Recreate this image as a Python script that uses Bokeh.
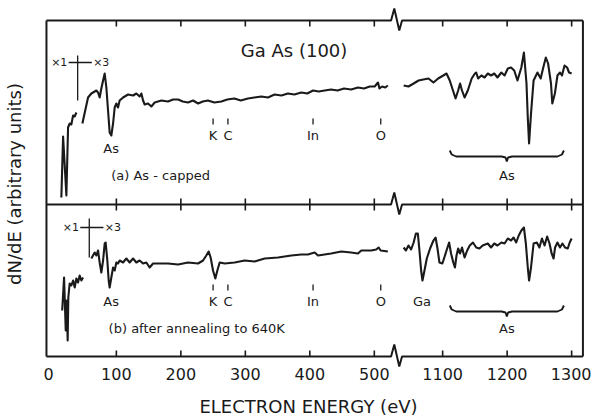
import numpy as np
from bokeh.plotting import figure
from bokeh.models import Range1d, FixedTicker
from bokeh.core.properties import value
from bokeh.embed import file_html
from bokeh.resources import INLINE

# ---------------- data (electron energy in eV, dN/dE in arbitrary units) ----------------
# (a) As-capped : x1 part
a_lo_E = [14.7, 17.4, 22.5, 25.1, 27.6, 30.2, 32.9, 35.4, 38.0]
a_lo_I = [159, 220, 161, 229, 233, 232, 241, 240, 244]
# (a) As-capped : x3 part
a_mid_E = [47.3, 56.1, 61.2, 69.0, 71.6, 74.1, 76.7, 79.4, 81.9, 84.5, 87.1, 89.6, 92.2, 94.9,
           97.4, 100, 102.6, 105.1, 110.4, 118.1, 125.9, 131, 136.1, 138.8, 141.4, 143.9, 149.1,
           154.3, 159.4, 169.8, 180, 188, 195.7, 203, 211, 219, 226.7, 234, 242, 252, 262.8,
           272, 283, 293, 304, 314, 324.8, 335, 345.4, 356, 366, 376, 386.8, 396, 405, 414,
           423, 433, 443, 453, 464, 474.7, 484, 493, 500.5, 505.7, 508, 512, 517, 521]
a_mid_I = [233, 259, 263, 266, 264, 259, 268, 276, 283, 269, 246, 224, 221, 233,
           249, 253, 249, 256, 259, 262, 261, 263, 260, 263, 256, 252, 253,
           250, 254, 256, 255, 257, 257, 255, 254, 256, 253, 255, 256, 254, 255,
           257, 258, 256, 258, 259, 260, 259, 262, 261, 263, 262, 264, 263, 266, 265,
           266, 267, 266, 268, 267, 269, 268, 270, 270, 274, 268, 270, 269, 271]
# (a) As-capped : high-energy part
a_hi_E = [1039.5, 1047, 1055, 1062.6, 1070, 1078, 1085.7, 1093, 1101, 1106, 1111, 1116, 1120,
          1124, 1127, 1130, 1134, 1139, 1145, 1150, 1152, 1155, 1160, 1165, 1170, 1175, 1180,
          1185, 1191, 1196, 1201, 1206, 1211, 1216, 1222, 1226, 1230, 1232, 1234, 1237, 1241,
          1247, 1252, 1256, 1260, 1263.5, 1268, 1270, 1274, 1278, 1282, 1285, 1289, 1293,
          1296, 1300]
a_hi_I = [271, 270, 273, 276, 277, 278, 274, 278, 281, 283, 276, 266, 258,
          266, 273, 266, 259, 266, 278, 283, 284, 278, 281, 279, 283, 281, 283,
          279, 284, 281, 288, 289, 286, 276, 289, 304, 273, 239, 213, 243, 276,
          284, 278, 289, 299, 293, 273, 253, 263, 281, 284, 281, 291, 289,
          284, 283]

# (b) after annealing to 640 K : x1 part
b_lo_E = [16, 18.9, 21.5, 23, 24.5, 25.5, 27.6, 30.2, 32.9, 35.4, 38, 40.6, 43.1, 45.7, 48.4]
b_lo_I = [46, 79, 26, 56, 16, 59, 73, 71, 76, 69, 78, 74, 81, 76, 79]
# (b) x3 part
b_mid_E = [61.2, 66.4, 69, 71.6, 74.1, 76.7, 79.4, 81.9, 83.4, 86, 88.1, 89.6, 92.2, 94.9, 97.4,
           100, 102.6, 105.1, 110.4, 115.5, 120.6, 125.9, 131, 136.1, 141.4, 146.5, 151.6,
           156.9, 167.1, 180.2, 195.7, 211.2, 226.7, 234.4, 239.5, 243.1, 246.2, 249.9, 253.5,
           256.6, 260.2, 268, 283.4, 299, 314.4, 330, 350.7, 371.3, 386.8, 397, 407.5, 412.7,
           433, 448.8, 464, 474.7, 479.8, 495.3, 503, 506.7, 509.8, 521]
b_mid_I = [98, 104, 101, 106, 94, 84, 96, 113, 114, 96, 76, 69, 79, 89, 86,
           94, 93, 96, 94, 98, 94, 98, 94, 96, 93, 94, 89,
           93, 93, 93, 92, 94, 93, 96, 101, 105, 99, 86, 78,
           86, 94, 93, 94, 96, 95, 98, 99, 101, 102, 102, 104, 101,
           103, 105, 104, 103, 106, 106, 107, 109, 106, 105]
# (b) high-energy part
b_hi_E = [1039.5, 1043, 1047, 1051, 1055, 1058.5, 1061.5, 1064, 1066.6, 1068.7, 1071.8, 1075.4,
          1080.5, 1085.7, 1089, 1092, 1095, 1099.5, 1102.6, 1106, 1110, 1113, 1116.5, 1119,
          1121.5, 1124, 1127, 1130, 1134, 1138, 1142, 1147, 1152, 1157, 1162, 1170, 1175,
          1180, 1185, 1191, 1196, 1201, 1206, 1210, 1214, 1218, 1222, 1226, 1229, 1232, 1234,
          1237, 1241, 1246, 1250, 1254, 1258, 1262, 1265.7, 1269, 1272, 1274.3, 1278, 1282,
          1285.7, 1289.7, 1294, 1297, 1300]
b_hi_I = [109, 106, 111, 107, 114, 123, 123, 106, 86, 76, 86, 98,
          108, 116, 119, 108, 94, 93, 99, 106, 114, 103, 94, 89,
          101, 108, 103, 109, 99, 106, 111, 114, 109, 108, 111, 113, 109,
          113, 111, 114, 113, 118, 116, 119, 114, 121, 126, 129, 113, 89, 76,
          89, 113, 114, 109, 118, 111, 120, 113, 103, 98, 109, 114, 109,
          113, 109, 108, 114, 118]

tick_energies = [100, 200, 300, 400, 500, 1100, 1200, 1300]
tick_labels = ["100", "200", "300", "400", "500", "1100", "1200", "1300"]

top_names = ["As", "K", "C", "In", "O"]
top_E = [92, 250, 273, 405, 510]
bot_names = ["As", "K", "C", "In", "O", "Ga"]
bot_E = [92, 250, 273, 405, 510, 1068]
marked_names = ["K", "C", "In", "O"]
as_group_E = [1111, 1288]
gain_switch_a = 40
gain_switch_b = 58

# ---------------- axis break: E above the break is shifted left ----------------
HI_SHIFT = 494
BREAK_X = 531


def X(E):
    arr = np.asarray(E, dtype=float)
    return np.where(arr > 800, arr - HI_SHIFT, arr)


# ---------------- layout constants ----------------
Y_BOT, Y_MID, Y_TOP = 0, 152, 336
X_L, X_R = -8.4, 823.5
TICK = 6
INK = "#1a1a1a"
FONT = value("DejaVu Sans")
TOP_LABEL_Y, TOP_AS_Y, BOT_LABEL_Y = 221, 208, 55

p = figure(width=591, height=419, x_range=Range1d(-40.9, 836.8), y_range=Range1d(-11, 356),
           output_backend="svg", toolbar_location=None,
           min_border_left=24, min_border_right=0, min_border_top=0, min_border_bottom=0)
p.outline_line_color = None
p.grid.visible = False
p.background_fill_color = "white"

# x axis: only labels (ticks are drawn on the frame lines below)
tick_x = [int(v) for v in X(tick_energies)]
ZERO_X = -5
p.xaxis.ticker = FixedTicker(ticks=[ZERO_X] + tick_x)
overrides = {ZERO_X: "0"}
for tx, lab in zip(tick_x, tick_labels):
    overrides[tx] = lab
p.xaxis.major_label_overrides = overrides
p.xaxis.axis_line_color = None
p.xaxis.major_tick_in = 0
p.xaxis.major_tick_out = 0
p.xaxis.minor_tick_line_color = None
p.xaxis.major_label_standoff = 0
p.xaxis.major_label_text_font = "DejaVu Sans"
p.xaxis.major_label_text_font_size = "16px"
p.xaxis.major_label_text_color = INK
p.xaxis.axis_label = "ELECTRON ENERGY (eV)"
p.xaxis.axis_label_text_font = "DejaVu Sans"
p.xaxis.axis_label_text_font_size = "18px"
p.xaxis.axis_label_text_font_style = "normal"
p.xaxis.axis_label_text_color = INK
p.xaxis.axis_label_standoff = 13

p.yaxis.ticker = FixedTicker(ticks=[])
p.yaxis.axis_line_color = None
p.yaxis.major_tick_in = 0
p.yaxis.major_tick_out = 0
p.yaxis.minor_tick_line_color = None
p.yaxis.axis_label = "dN/dE (arbitrary units)"
p.yaxis.axis_label_text_font = "DejaVu Sans"
p.yaxis.axis_label_text_font_size = "18px"
p.yaxis.axis_label_text_font_style = "normal"
p.yaxis.axis_label_text_color = INK
p.yaxis.axis_label_standoff = 1


# ---------------- frame with broken axis lines ----------------
def broken_hline(y):
    xs = [X_L, BREAK_X - 5, BREAK_X, BREAK_X + 7.7, BREAK_X + 12, X_R]
    ys = [y, y, y + 12, y - 10, y, y]
    return xs, ys


for yb in (Y_TOP, Y_MID, Y_BOT):
    xs, ys = broken_hline(yb)
    p.line(xs, ys, line_color=INK, line_width=2)
p.line([X_L, X_L], [Y_BOT, Y_TOP], line_color=INK, line_width=2)
p.line([X_R, X_R], [Y_BOT, Y_TOP], line_color=INK, line_width=2)

# inward ticks on top, both sides of the divider, and bottom
n = len(tick_x)
p.segment(x0=tick_x, y0=[Y_TOP] * n, x1=tick_x, y1=[Y_TOP - TICK] * n, line_color=INK, line_width=1.6)
p.segment(x0=tick_x, y0=[Y_MID - TICK] * n, x1=tick_x, y1=[Y_MID + TICK] * n, line_color=INK, line_width=1.6)
p.segment(x0=tick_x, y0=[Y_BOT] * n, x1=tick_x, y1=[Y_BOT + TICK] * n, line_color=INK, line_width=1.6)

# ---------------- spectra ----------------
for E, I in ((a_lo_E, a_lo_I), (a_mid_E, a_mid_I), (a_hi_E, a_hi_I),
             (b_lo_E, b_lo_I), (b_mid_E, b_mid_I), (b_hi_E, b_hi_I)):
    p.line(X(E), I, line_color=INK, line_width=2.1, line_join="round")


# ---------------- annotations ----------------
def txt(x, y, s, size="13px", align="center"):
    p.text(x=[x], y=[y], text=[s], text_font=FONT, text_font_size=size, text_color=INK,
           text_align=align, text_baseline="middle")


txt(380, 306, "Ga As  (100)", "18px")
txt(92, 181, "(a)   As - capped", "13px", "left")
txt(88, 28, "(b)   after annealing to 640K", "13px", "left")

# element labels with short marks
top_y = [TOP_AS_Y if nm == "As" else TOP_LABEL_Y for nm in top_names]
p.text(x=X(top_E), y=top_y, text=top_names, text_font=FONT, text_font_size="13px",
       text_color=INK, text_align="center", text_baseline="middle")
p.text(x=X(bot_E), y=[BOT_LABEL_Y] * len(bot_E), text=bot_names, text_font=FONT, text_font_size="13px",
       text_color=INK, text_align="center", text_baseline="middle")
mark_E = [e for nm, e in zip(top_names, top_E) if nm in marked_names]
m = len(mark_E)
p.segment(x0=X(mark_E), y0=[232] * m, x1=X(mark_E), y1=[238] * m, line_color=INK, line_width=1.3)
p.segment(x0=X(mark_E), y0=[66] * m, x1=X(mark_E), y1=[72] * m, line_color=INK, line_width=1.3)


# braces for the high-energy As group
def brace(e0, e1, y_end, y_line, y_tip):
    x0, x1 = float(X(e0)), float(X(e1))
    xc = (x0 + x1) / 2
    xs = [x0, x0 + 3, x0 + 10, xc - 8, xc - 2, xc, xc + 2, xc + 8, x1 - 10, x1 - 3, x1]
    ys = [y_end, y_line + 2, y_line, y_line, y_line - 1, y_tip, y_line - 1, y_line, y_line, y_line + 2, y_end]
    p.line(xs, ys, line_color=INK, line_width=1.9)
    return xc


xc_a = brace(as_group_E[0], as_group_E[1], 206, 200, 195)
txt(xc_a, 181, "As")
xc_b = brace(as_group_E[0], as_group_E[1], 51, 45, 40)
txt(xc_b, 28, "As")


# gain change markers (x1 | x3)
def gain_marker(e, y, ytop, ybot):
    x = float(X(e))
    p.line([x - 14, x + 22], [y, y], line_color=INK, line_width=1.3)
    p.line([x, x], [ytop, ybot], line_color=INK, line_width=1.3)
    txt(x - 16, y, "×1", "11px", "right")
    txt(x + 24, y, "×3", "11px", "left")


gain_marker(gain_switch_a, 294, 301, 256)
gain_marker(gain_switch_b, 129, 138, 99)

open("out.html", "w").write(file_html(p, INLINE))
